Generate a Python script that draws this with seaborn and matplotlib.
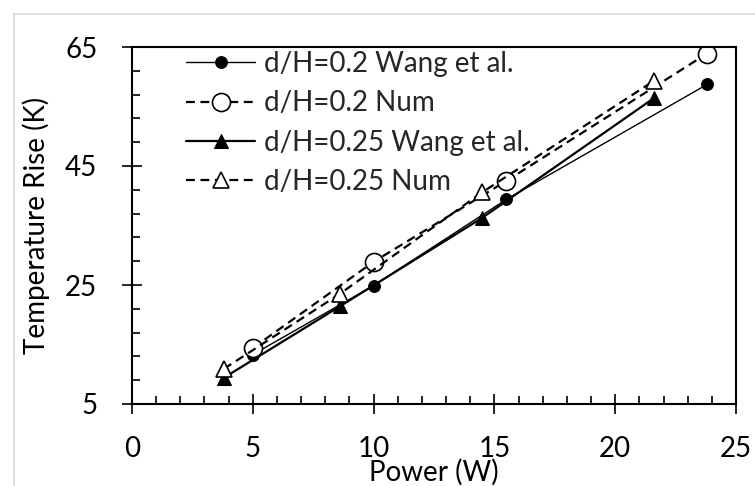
import matplotlib
matplotlib.use("Agg")
import matplotlib.pyplot as plt
from matplotlib.patches import Rectangle
from matplotlib.ticker import MultipleLocator, FixedLocator
import seaborn as sns

# Data
power_02 = [5.0, 10.0, 15.5, 23.8]
wang_02 = [13.3, 24.9, 39.4, 58.7]
num_02 = [14.4, 28.9, 42.5, 63.9]

power_025 = [3.8, 8.6, 14.5, 21.6]
wang_025 = [9.4, 21.4, 36.3, 56.4]
num_025 = [10.9, 23.5, 40.6, 59.3]

labels = ["d/H=0.2 Wang et al.", "d/H=0.2 Num", "d/H=0.25 Wang et al.", "d/H=0.25 Num"]
x_label = "Power (W)"
y_label = "Temperature Rise (K)"
y_ticks = [5, 25, 45, 65]
x_ticks = [0, 5, 10, 15, 20, 25]

sns.set_theme(style="white")
plt.rcParams['font.family'] = ['Lato', 'DejaVu Sans']

fig = plt.figure(figsize=(7.55, 4.86), dpi=100)
fig.patch.set_facecolor("white")
fig.patches.append(Rectangle((14 / 755, -0.1), 1.2, (486 - 14) / 486 + 0.1,
                             transform=fig.transFigure, fill=False,
                             edgecolor="#d9d9d9", linewidth=1.2))
ax = fig.add_axes([132 / 755, 82 / 486, 604 / 755, 357 / 486])

dash = (0, (4, 2.5))
sns.lineplot(x=power_02, y=wang_02, ax=ax, color="black", lw=1.0, marker="o",
             markersize=8.5, markerfacecolor="black", markeredgecolor="black",
             label=labels[0], sort=False)
sns.lineplot(x=power_02, y=num_02, ax=ax, color="black", lw=1.6, linestyle=dash,
             marker="o", markersize=13, markerfacecolor="white",
             markeredgecolor="black", markeredgewidth=1.2, label=labels[1], sort=False)
sns.lineplot(x=power_025, y=wang_025, ax=ax, color="black", lw=1.6, marker="^",
             markersize=10, markerfacecolor="black", markeredgecolor="black",
             label=labels[2], sort=False)
sns.lineplot(x=power_025, y=num_025, ax=ax, color="black", lw=1.6, linestyle=dash,
             marker="^", markersize=11, markerfacecolor="white",
             markeredgecolor="black", markeredgewidth=1.2, label=labels[3], sort=False)

ax.set_xlim(0, 25)
ax.set_ylim(5, 65)
ax.xaxis.set_major_locator(FixedLocator(x_ticks))
ax.xaxis.set_minor_locator(MultipleLocator(1))
ax.yaxis.set_major_locator(FixedLocator(y_ticks))
ax.yaxis.set_minor_locator(MultipleLocator(4, offset=1))

for s in ax.spines.values():
    s.set_color("black")
    s.set_linewidth(1.5)

ax.tick_params(which="major", direction="inout", length=14, width=1.2,
               color="black", labelsize=20, labelcolor="black")
ax.tick_params(axis="x", which="major", pad=16)
ax.tick_params(axis="y", which="major", pad=18)
ax.tick_params(which="minor", direction="in", length=6, width=1.2, color="black")
ax.tick_params(axis="both", which="both", bottom=True, left=True, top=False, right=False)

ax.set_xlabel(x_label, fontsize=20, color="black", labelpad=-2)
ax.set_ylabel(y_label, fontsize=20, color="black", labelpad=11)

leg = ax.legend(loc="upper left", bbox_to_anchor=(186 / 755, 1 - 51 / 486),
                bbox_transform=fig.transFigure, frameon=False, fontsize=20,
                handlelength=2.5, handletextpad=0.3, labelspacing=0.48,
                borderpad=0, borderaxespad=0)

fig.savefig("out.png", dpi=100)
